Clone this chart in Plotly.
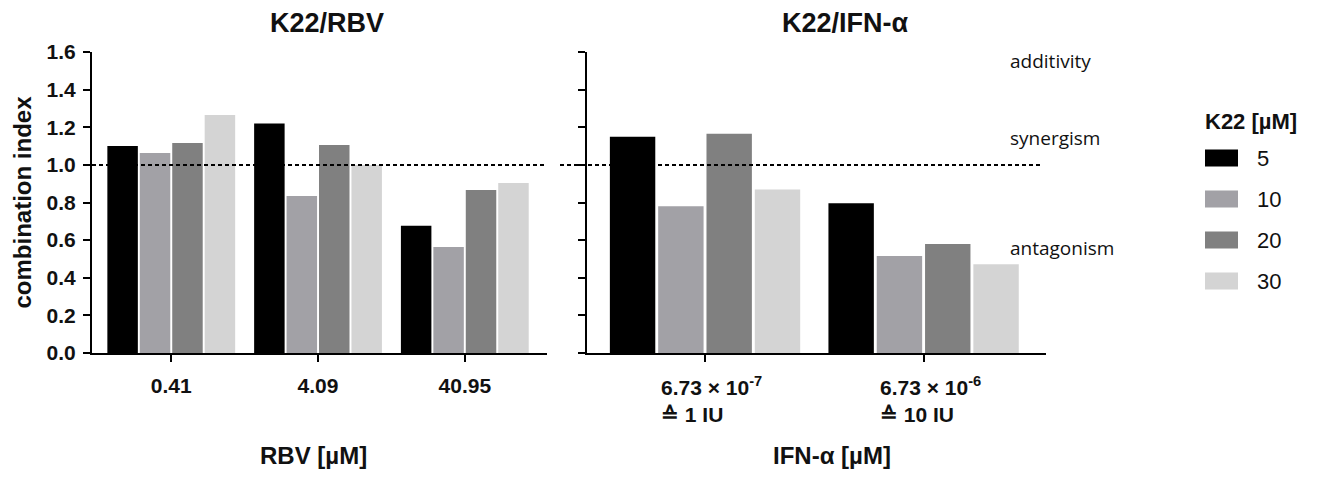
import plotly.graph_objects as go

# ---------------- data ----------------
rbv_conc = ["0.41", "4.09", "40.95"]
ifn_conc = ["6.73e-7", "6.73e-6"]
ifn_tick_labels = ["6.73 × 10<sup>-7</sup><br>≙ 1 IU", "6.73 × 10<sup>-6</sup><br>≙ 10 IU"]
k22_conc = ["5", "10", "20", "30"]

rbv_ci_k5 = [1.10, 1.22, 0.676]
rbv_ci_k10 = [1.063, 0.835, 0.564]
rbv_ci_k20 = [1.116, 1.105, 0.867]
rbv_ci_k30 = [1.265, 1.00, 0.904]

ifn_ci_k5 = [1.15, 0.796]
ifn_ci_k10 = [0.78, 0.515]
ifn_ci_k20 = [1.165, 0.579]
ifn_ci_k30 = [0.869, 0.472]

y_ticks = [0.0, 0.2, 0.4, 0.6, 0.8, 1.0, 1.2, 1.4, 1.6]
threshold = 1.0
region_labels = ["additivity", "synergism", "antagonism"]
region_label_y = [1.55, 1.145, 0.56]

# ---------------- style ----------------
colors = ["#000000", "#a2a1a6", "#808080", "#d4d4d4"]
FONT = "Arial, 'Liberation Sans', sans-serif"
TXT = "#111111"
PAGE_OFF = 8  # default body margin of the html page
W, H = 1325 - PAGE_OFF, 477 - PAGE_OFF
# plot area in page pixels: x 92..1046, y 52..353
PX_L, PX_R, PX_T, PX_B = 92, 1046, 52, 353
ML, MT = PX_L - PAGE_OFF, PX_T - PAGE_OFF
MR = W - (PX_R - PAGE_OFF)
MB = H - (PX_B - PAGE_OFF)
PW = PX_R - PX_L
PH = PX_B - PX_T


def px_x(px):
    return (px - PX_L) / PW


def px_y(py):
    return (PX_B - py) / PH


rbv_series = [rbv_ci_k5, rbv_ci_k10, rbv_ci_k20, rbv_ci_k30]
ifn_series = [ifn_ci_k5, ifn_ci_k10, ifn_ci_k20, ifn_ci_k30]

fig = go.Figure()
for i, k in enumerate(k22_conc):
    fig.add_trace(go.Bar(x=rbv_conc, y=rbv_series[i], name=k, marker=dict(color=colors[i], line=dict(width=0)),
                         xaxis="x", yaxis="y", showlegend=False))
    fig.add_trace(go.Bar(x=ifn_conc, y=ifn_series[i], name=k, marker=dict(color=colors[i], line=dict(width=0)),
                         xaxis="x2", yaxis="y2", showlegend=False))

axis_common = dict(showline=True, linecolor="black", linewidth=2, ticks="outside", ticklen=7,
                   tickwidth=2, tickcolor="black", showgrid=False, zeroline=False)
tickfont = dict(family=FONT, size=21, color=TXT, weight="bold")

fig.update_layout(
    width=W, height=H,
    margin=dict(l=ML, r=MR, t=MT, b=MB),
    paper_bgcolor="white", plot_bgcolor="white",
    barmode="group", bargap=0.116, bargroupgap=0.06,
    xaxis=dict(domain=[0, px_x(547)], type="category", range=[-0.54, 2.56], anchor="y",
               tickfont=tickfont, ticklabelstandoff=6, **axis_common),
    yaxis=dict(range=[0, 1.6], tickvals=y_ticks, tickformat=".1f", anchor="x", tickfont=tickfont,
               ticklabelstandoff=3,
               title=dict(text="combination index", font=dict(family=FONT, size=24, color=TXT, weight="bold"),
                          standoff=8),
               **axis_common),
    xaxis2=dict(domain=[px_x(587), 1], type="category", range=[-0.54, 1.56], anchor="y2",
                showticklabels=False, **axis_common),
    yaxis2=dict(range=[0, 1.6], tickvals=y_ticks, anchor="x2", showticklabels=False, **axis_common),
)

# threshold dashed lines
fig.add_shape(type="line", xref="paper", yref="y", x0=0, x1=px_x(547), y0=threshold, y1=threshold,
              line=dict(color="black", width=2, dash="4px,3px"))
fig.add_shape(type="line", xref="paper", yref="y2", x0=px_x(560), x1=px_x(1042), y0=threshold, y1=threshold,
              line=dict(color="black", width=2, dash="4px,3px"))

ann = []
# panel titles
for txt, cx in [("K22/RBV", 327), ("K22/IFN-α", 845)]:
    ann.append(dict(text=txt, xref="paper", yref="paper", x=px_x(cx), y=px_y(23), xanchor="center",
                    yanchor="middle", showarrow=False,
                    font=dict(family=FONT, size=27, color=TXT, weight="bold")))
# x axis titles
for txt, cx in [("RBV [µM]", 313), ("IFN-α [µM]", 832)]:
    ann.append(dict(text=txt, xref="paper", yref="paper", x=px_x(cx), y=px_y(455), xanchor="center",
                    yanchor="middle", showarrow=False,
                    font=dict(family=FONT, size=24, color=TXT, weight="bold")))
# right panel tick labels (left aligned two-line labels)
for i, lab in enumerate(ifn_tick_labels):
    ann.append(dict(text=lab, xref="x2", yref="paper", x=i, y=px_y(371), xanchor="left", yanchor="top",
                    xshift=-46, align="left", showarrow=False,
                    font=dict(family=FONT, size=21, color=TXT, weight="bold")))
# region labels
for lab, yv in zip(region_labels, region_label_y):
    ann.append(dict(text=lab, xref="paper", yref="y2", x=px_x(1008), y=yv, xanchor="left", yanchor="middle",
                    showarrow=False, font=dict(family="'Open Sans', sans-serif", size=19, color=TXT)))

# legend (manual)
ann.append(dict(text="K22 [µM]", xref="paper", yref="paper", x=px_x(1203), y=px_y(122), xanchor="left",
                yanchor="middle", showarrow=False,
                font=dict(family=FONT, size=22, color=TXT, weight="bold")))
leg_y = [158, 199, 240, 281]
for i, k in enumerate(k22_conc):
    fig.add_shape(type="rect", xref="paper", yref="paper", x0=px_x(1205), x1=px_x(1238),
                  y0=px_y(leg_y[i] + 8.5), y1=px_y(leg_y[i] - 8.5), fillcolor=colors[i], line=dict(width=0))
    ann.append(dict(text=k, xref="paper", yref="paper", x=px_x(1255), y=px_y(leg_y[i]), xanchor="left",
                    yanchor="middle", showarrow=False, font=dict(family=FONT, size=22, color=TXT)))

fig.update_layout(annotations=ann)
fig.write_html("out.html")
